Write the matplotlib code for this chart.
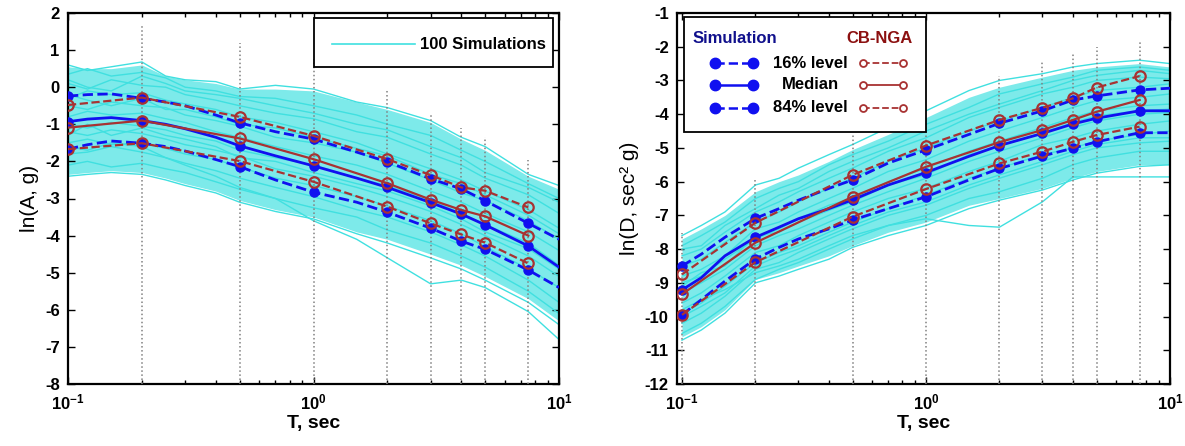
import matplotlib
matplotlib.use('Agg')
import matplotlib.pyplot as plt
from matplotlib.lines import Line2D
from matplotlib.patches import Rectangle

plt.rcParams['font.family'] = ['Liberation Sans', 'DejaVu Sans']
plt.rcParams['mathtext.fontset'] = 'custom'
plt.rcParams['mathtext.rm'] = 'Liberation Sans:bold'
plt.rcParams['mathtext.it'] = 'Liberation Sans:bold'
plt.rcParams['mathtext.default'] = 'rm'
plt.rcParams['axes.unicode_minus'] = False

# periods (sec) used for the simulation curves
T = [0.1, 0.12, 0.15, 0.2, 0.25, 0.3, 0.4, 0.5, 0.7, 1.0, 1.5, 2.0, 3.0, 4.0, 5.0, 7.5, 10.0]
# periods where the statistics / CB-NGA model are evaluated
T_key = [0.1, 0.2, 0.5, 1.0, 2.0, 3.0, 4.0, 5.0, 7.5]
key_idx = [0, 3, 7, 9, 11, 12, 13, 14, 15]

# ---------- ln(A, g) ----------
simA = [
    [0.6, 0.45, 0.55, 0.68, 0.3, 0.2, 0.15, -0.05, 0.05, -0.05, -0.4, -0.55, -0.9, -1.35, -1.6, -2.35, -2.65],
    [0.35, 0.5, 0.3, 0.4, 0.25, 0.0, -0.1, -0.25, -0.3, -0.5, -0.75, -1.0, -1.3, -1.7, -2.0, -2.6, -3.0],
    [0.1, -0.05, 0.2, 0.05, 0.0, -0.2, -0.35, -0.5, -0.7, -0.85, -1.2, -1.35, -1.8, -2.1, -2.45, -2.9, -3.4],
    [-0.3, -0.1, -0.2, -0.15, -0.35, -0.45, -0.6, -0.8, -0.95, -1.2, -1.5, -1.8, -2.2, -2.5, -2.8, -3.3, -3.8],
    [-0.5, -0.6, -0.4, -0.5, -0.55, -0.75, -0.9, -1.05, -1.35, -1.5, -1.75, -2.05, -2.5, -2.85, -3.05, -3.6, -4.1],
    [-0.8, -0.65, -0.75, -0.7, -0.85, -0.95, -1.2, -1.35, -1.6, -1.85, -2.1, -2.35, -2.8, -3.1, -3.4, -3.9, -4.4],
    [-1.0, -1.1, -0.95, -1.05, -1.15, -1.3, -1.45, -1.7, -1.9, -2.1, -2.45, -2.65, -3.05, -3.4, -3.7, -4.2, -4.8],
    [-1.2, -1.3, -1.15, -1.25, -1.4, -1.55, -1.7, -1.85, -2.2, -2.4, -2.7, -2.95, -3.35, -3.7, -4.0, -4.55, -5.1],
    [-1.5, -1.4, -1.55, -1.5, -1.65, -1.8, -1.95, -2.15, -2.45, -2.65, -2.95, -3.2, -3.6, -3.95, -4.3, -4.9, -5.4],
    [-1.8, -1.75, -1.6, -1.75, -1.9, -2.05, -2.25, -2.45, -2.7, -2.95, -3.3, -3.5, -3.9, -4.25, -4.55, -5.2, -5.8],
    [-2.1, -2.0, -2.15, -2.05, -2.2, -2.3, -2.55, -2.75, -3.0, -3.25, -3.5, -3.85, -4.2, -4.55, -4.85, -5.5, -6.1],
    [-2.4, -2.35, -2.3, -2.35, -2.5, -2.65, -2.85, -3.1, -3.35, -3.55, -3.95, -4.2, -4.6, -4.9, -5.2, -5.8, -6.4],
    [-1.6, -1.7, -1.5, -1.6, -1.9, -2.1, -2.4, -2.7, -3.0, -3.6, -4.1, -4.6, -5.3, -5.2, -5.4, -6.05, -6.8],
    [0.2, 0.0, -0.1, 0.3, 0.1, -0.1, -0.2, -0.3, -0.5, -0.7, -1.0, -1.15, -1.6, -1.9, -2.3, -2.7, -3.1],
    [-0.2, -0.35, -0.5, -0.3, -0.6, -0.6, -0.8, -1.0, -1.1, -1.35, -1.65, -1.85, -2.35, -2.6, -2.9, -3.45, -3.95],
    [-1.3, -1.0, -1.3, -1.1, -1.3, -1.4, -1.6, -1.9, -2.0, -2.3, -2.6, -2.8, -3.2, -3.55, -3.9, -4.35, -4.9],
]
bandA_hi = [0.55, 0.5, 0.5, 0.6, 0.3, 0.2, 0.1, -0.05, -0.05, -0.1, -0.4, -0.6, -0.95, -1.4, -1.7, -2.4, -2.75]
bandA_lo = [-2.35, -2.3, -2.25, -2.3, -2.45, -2.6, -2.8, -3.05, -3.3, -3.5, -3.9, -4.1, -4.5, -4.8, -5.1, -5.7, -6.3]
simA_84 = [-0.24, -0.2, -0.18, -0.3, -0.4, -0.5, -0.75, -0.96, -1.2, -1.40, -1.75, -2.01, -2.47, -2.74, -3.06, -3.67, -4.1]
simA_50 = [-0.93, -0.86, -0.82, -0.90, -1.0, -1.12, -1.35, -1.58, -1.85, -2.12, -2.45, -2.70, -3.11, -3.42, -3.71, -4.28, -4.85]
simA_16 = [-1.67, -1.55, -1.45, -1.51, -1.6, -1.72, -1.95, -2.14, -2.5, -2.83, -3.1, -3.37, -3.80, -4.15, -4.37, -4.93, -5.4]
ngaA_84 = [-0.48, -0.28, -0.80, -1.31, -1.94, -2.37, -2.70, -2.79, -3.24]
ngaA_50 = [-1.09, -0.90, -1.38, -1.94, -2.59, -3.03, -3.31, -3.48, -4.0]
ngaA_16 = [-1.67, -1.51, -1.99, -2.55, -3.22, -3.67, -3.97, -4.19, -4.75]
gridA_T = [0.2, 0.5, 1.0, 2.0, 3.0, 4.0, 5.0, 7.5]
gridA_top = [1.65, 1.19, 0.75, -0.05, -0.7, -1.1, -1.34, -1.96]

# ---------- ln(D, sec^2 g) ----------
simD = [
    [-7.6, -7.3, -6.9, -6.1, -5.9, -5.6, -5.2, -4.9, -4.4, -3.9, -3.3, -3.0, -2.8, -2.6, -2.5, -2.4, -2.5],
    [-7.9, -7.6, -7.2, -6.5, -6.2, -6.0, -5.5, -5.2, -4.8, -4.3, -3.8, -3.4, -3.1, -2.9, -2.7, -2.6, -2.7],
    [-8.2, -8.0, -7.5, -6.9, -6.6, -6.3, -5.9, -5.6, -5.1, -4.7, -4.1, -3.8, -3.4, -3.2, -3.0, -2.9, -2.95],
    [-8.5, -8.3, -7.8, -7.2, -6.9, -6.6, -6.2, -5.9, -5.4, -5.0, -4.5, -4.2, -3.8, -3.5, -3.3, -3.2, -3.1],
    [-8.8, -8.6, -8.2, -7.4, -7.2, -6.9, -6.5, -6.2, -5.7, -5.35, -4.8, -4.5, -4.1, -3.8, -3.6, -3.5, -3.4],
    [-9.0, -8.8, -8.3, -7.7, -7.4, -7.1, -6.7, -6.5, -6.0, -5.6, -5.1, -4.8, -4.4, -4.1, -3.9, -3.75, -3.7],
    [-9.3, -9.0, -8.6, -7.9, -7.6, -7.4, -7.0, -6.7, -6.3, -5.9, -5.4, -5.1, -4.7, -4.4, -4.2, -4.0, -3.95],
    [-9.6, -9.3, -8.8, -8.1, -7.9, -7.6, -7.2, -6.9, -6.5, -6.2, -5.7, -5.4, -4.9, -4.7, -4.5, -4.3, -4.2],
    [-9.9, -9.6, -9.1, -8.4, -8.1, -7.9, -7.5, -7.2, -6.8, -6.4, -5.9, -5.6, -5.2, -5.0, -4.8, -4.6, -4.5],
    [-10.2, -9.9, -9.4, -8.6, -8.4, -8.1, -7.7, -7.4, -7.0, -6.7, -6.2, -5.9, -5.5, -5.2, -5.0, -4.85, -4.8],
    [-10.5, -10.2, -9.7, -8.9, -8.6, -8.4, -8.0, -7.7, -7.3, -7.0, -6.5, -6.3, -5.9, -5.5, -5.3, -5.1, -5.1],
    [-10.7, -10.4, -9.9, -9.0, -8.8, -8.6, -8.3, -7.95, -7.6, -7.3, -6.8, -6.55, -6.25, -5.95, -5.75, -5.55, -5.5],
    [-9.8, -9.5, -9.2, -8.7, -8.5, -8.3, -7.9, -7.6, -7.3, -7.1, -7.3, -7.35, -6.6, -5.86, -5.86, -5.86, -5.86],
    [-8.0, -7.9, -7.3, -6.8, -6.4, -6.2, -5.7, -5.4, -5.0, -4.5, -4.0, -3.7, -3.3, -3.0, -2.85, -2.7, -2.8],
    [-9.1, -8.7, -8.5, -7.6, -7.5, -7.2, -6.85, -6.6, -6.1, -5.8, -5.2, -4.95, -4.55, -4.25, -4.05, -3.9, -3.85],
    [-10.0, -9.7, -9.3, -8.5, -8.2, -8.0, -7.6, -7.3, -6.9, -6.6, -6.1, -5.8, -5.4, -5.1, -4.9, -4.7, -4.7],
]
bandD_hi = [-7.7, -7.4, -7.0, -6.3, -6.0, -5.8, -5.4, -5.05, -4.6, -4.1, -3.5, -3.2, -2.9, -2.7, -2.6, -2.5, -2.6]
bandD_lo = [-10.6, -10.3, -9.8, -8.9, -8.7, -8.5, -8.2, -7.9, -7.5, -7.2, -6.7, -6.5, -6.2, -5.9, -5.7, -5.5, -5.5]
simD_84 = [-8.50, -8.15, -7.65, -7.09, -6.8, -6.55, -6.2, -5.95, -5.45, -5.06, -4.6, -4.27, -3.90, -3.58, -3.46, -3.28, -3.23]
simD_50 = [-9.21, -8.85, -8.2, -7.65, -7.35, -7.1, -6.8, -6.54, -6.1, -5.73, -5.25, -4.93, -4.57, -4.29, -4.12, -3.90, -3.90]
simD_16 = [-9.95, -9.5, -8.95, -8.29, -7.95, -7.7, -7.4, -7.14, -6.8, -6.45, -5.95, -5.61, -5.24, -5.01, -4.82, -4.55, -4.55]
ngaD_84 = [-8.75, -7.22, -5.80, -4.93, -4.17, -3.81, -3.53, -3.21, -2.87]
ngaD_50 = [-9.34, -7.81, -6.45, -5.56, -4.83, -4.47, -4.17, -3.93, -3.58]
ngaD_16 = [-9.95, -8.39, -7.04, -6.22, -5.46, -5.11, -4.82, -4.62, -4.37]
gridD_T = [0.1, 0.2, 0.5, 1.0, 2.0, 3.0, 4.0, 5.0, 7.5]
gridD_top = [-7.53, -5.96, -4.62, -4.2, -2.87, -2.45, -2.19, -2.0, -1.83]

CYAN = '#40e0e0'
BLUE = '#1010f0'
RED = '#a83232'


def draw_panel(ax, sims, hi, lo, s84, s50, s16, n84, n50, n16, gT, gtop, ylim):
    ax.fill_between(T, lo, hi, color=CYAN, alpha=0.68, lw=0, zorder=1)
    for s in sims:
        ax.plot(T, s, color=CYAN, lw=1.0, zorder=2)
    ax.vlines(gT, ylim[0], gtop, colors='#808080', linestyles=':', lw=1.1, zorder=3)
    for s, ls in [(s84, '--'), (s50, '-'), (s16, '--')]:
        ax.plot(T, s, ls, color=BLUE, lw=2, marker='o', markevery=key_idx, ms=6.5, zorder=4)
    for n, ls in [(n84, '--'), (n50, '-'), (n16, '--')]:
        ax.plot(T_key, n, ls, color=RED, lw=1.6, marker='o', mfc='none', mec=RED, mew=1.6, ms=7.5, zorder=5)
    ax.set_xscale('log')
    ax.set_ylim(ylim)
    yt = list(range(ylim[0], ylim[1] + 1))
    ax.set_yticks(yt)
    ax.set_yticklabels([str(v) for v in yt], fontweight='bold')
    ax.set_xticks([0.1, 1, 10])
    ax.set_xticklabels([r'$10^{-1}$', r'$10^{0}$', r'$10^{1}$'])
    ax.tick_params(which='both', direction='in', top=True, right=True, width=1)
    ax.tick_params(which='major', length=5, labelsize=12, pad=6)
    ax.tick_params(which='minor', length=3)
    for sp in ax.spines.values():
        sp.set_linewidth(1.6)
    ax.set_xlabel('T, sec', fontsize=14, fontweight='bold', labelpad=2)


fig = plt.figure(figsize=(11.85, 4.46), dpi=100)
axA = fig.add_axes([68 / 1185, 62 / 446, 491 / 1185, 371 / 446])
axD = fig.add_axes([677 / 1185, 62 / 446, 493 / 1185, 371 / 446])

draw_panel(axA, simA, bandA_hi, bandA_lo, simA_84, simA_50, simA_16,
           ngaA_84, ngaA_50, ngaA_16, gridA_T, gridA_top, (-8, 2))
axA.set_xlim(0.1, 10)
axA.set_ylabel('ln(A, g)', fontsize=15, labelpad=4)

draw_panel(axD, simD, bandD_hi, bandD_lo, simD_84, simD_50, simD_16,
           ngaD_84, ngaD_50, ngaD_16, gridD_T, gridD_top, (-12, -1))
axD.set_xlim(0.0954, 10)
axD.set_ylabel('ln(D, sec\u00b2 g)', fontsize=15, labelpad=4)

# legend, left panel
axA.add_patch(Rectangle((0.501, 0.854), 0.487, 0.133, transform=axA.transAxes,
                        facecolor='white', edgecolor='black', lw=1.3, zorder=10))
axA.add_line(Line2D([0.538, 0.707], [0.916, 0.916], transform=axA.transAxes,
                    color=CYAN, lw=1.2, zorder=11))
axA.text(0.717, 0.916, '100 Simulations', transform=axA.transAxes, fontsize=12,
         fontweight='bold', va='center', ha='left', zorder=11)

# legend, right panel
axD.add_patch(Rectangle((0.014, 0.679), 0.491, 0.310, transform=axD.transAxes,
                        facecolor='white', edgecolor='black', lw=1.3, zorder=10))
axD.text(0.032, 0.930, 'Simulation', transform=axD.transAxes, fontsize=12,
         fontweight='bold', color='#10108c', va='center', ha='left', zorder=11)
axD.text(0.411, 0.930, 'CB-NGA', transform=axD.transAxes, fontsize=12,
         fontweight='bold', color='#8c1010', va='center', ha='center', zorder=11)
rows = [('16% level', '--', 0.865), ('Median', '-', 0.806), ('84% level', '--', 0.744)]
for label, ls, y in rows:
    axD.add_line(Line2D([0.077, 0.154], [y, y], transform=axD.transAxes, ls=ls,
                        color=BLUE, lw=1.8, marker='o', ms=7.5, zorder=11))
    axD.text(0.270, y, label, transform=axD.transAxes, fontsize=12, fontweight='bold',
             va='center', ha='center', zorder=11)
    axD.add_line(Line2D([0.377, 0.458], [y, y], transform=axD.transAxes, ls=ls,
                        color=RED, lw=1.3, marker='o', mfc='white', mec=RED, mew=1.3,
                        ms=5, zorder=11))

fig.savefig('out.png', dpi=100)
